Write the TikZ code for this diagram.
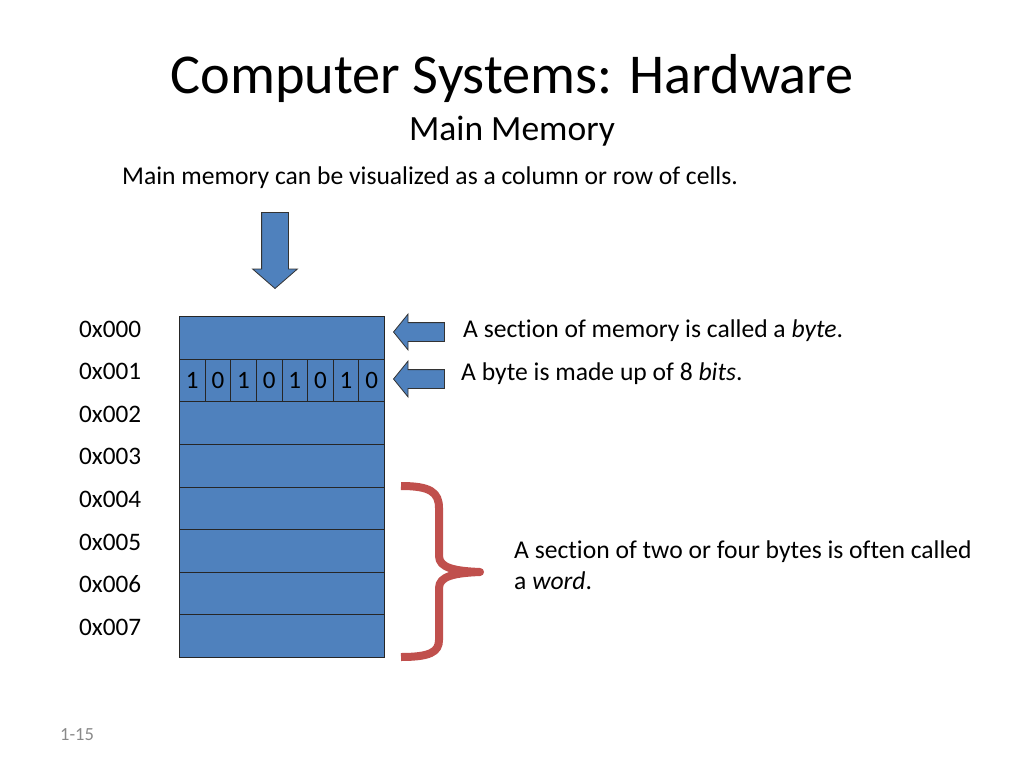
\documentclass[tikz,border=0pt]{standalone}
\usepackage{fontspec}
\setmainfont{Carlito}[Ligatures=NoCommon]
\usetikzlibrary{shapes.arrows, positioning}
\definecolor{cellblue}{HTML}{4F81BD}
\definecolor{bracered}{HTML}{C0504D}
\definecolor{numgray}{HTML}{898989}

\begin{document}
\begin{tikzpicture}[x=1pt, y=-1pt,
memcell/.style={rectangle, draw=black!85, fill=cellblue, line width=0.8pt, minimum width=205pt, minimum height=42.625pt, inner sep=0pt, anchor=north west},
bitcell/.style={rectangle, draw=black!85, fill=cellblue, line width=0.8pt, minimum width=25.625pt, minimum height=42.625pt, inner sep=0pt, anchor=north west, font=\fontsize{25}{30}\selectfont},
addrtext/.style={anchor=base west, inner sep=0pt, font=\fontsize{25.2}{30}\selectfont},
bodytext/.style={anchor=base west, inner sep=0pt, font=\fontsize{25.6}{30}\selectfont},
downarrow/.style={single arrow, draw=black!80, fill=cellblue, line width=0.8pt, shape border rotate=270, minimum height=76pt, inner sep=13pt, single arrow head extend=9pt, single arrow tip angle=98},
leftarrow/.style={single arrow, draw=black!80, fill=cellblue, line width=0.8pt, shape border rotate=180, minimum height=51pt, inner sep=9pt, single arrow head extend=8.5pt, single arrow tip angle=102},
]
\useasboundingbox (0,0) rectangle (1024,768);

%Titles
\node[anchor=base, inner sep=0pt, font=\fontsize{56.3}{66}\selectfont] (title) at (512,93) {Computer Systems: Hardware};
\node[anchor=base, inner sep=0pt, font=\fontsize{35.5}{42}\selectfont] (subtitle) at (512,140) {Main Memory};
\node[bodytext] (intro) at (122,184) {Main memory can be visualized as a column or row of cells.};

%Memory cells
\foreach \i in {0,...,7}
  \node[memcell] (row\i) at (179,{316+42.625*\i}) {};
\foreach \b [count=\i from 0] in {1,0,1,0,1,0,1,0}
  \node[bitcell] (bit\i) at ({179+25.625*\i},358.625) {\b};
\foreach \i in {0,...,7}
  \node[addrtext] (addr\i) at (79,{337+42.6*\i}) {0x00\i};

%Arrows
\node[downarrow, anchor=tip] (inarrow) at (275,289) {};
\node[leftarrow, anchor=tip] (bytearrow) at (393,332) {};
\node[leftarrow, anchor=tip] (bitarrow) at (393,379) {};

%Labels
\node[bodytext] (bytetext) at (463,337) {A section of memory is called a \textit{byte}.};
\node[bodytext] (bitstext) at (461,380) {A byte is made up of 8 \textit{bits}.};
\node[bodytext] (wordtext) at (514,558) {A section of two or four bytes is often called};
\node[bodytext] (wordtextb) at (514,589) {a \textit{word}.};
\node[anchor=base west, inner sep=0pt, text=numgray, font=\fontsize{18.5}{22}\selectfont] (slidenum) at (60,740) {1-15};

%Brace
\draw[bracered, line width=8pt, line join=round] (401,486) .. controls (430,486) and (439,492) .. (439,508) -- (439,556) .. controls (439,568) and (455,571) .. (480,572) .. controls (455,573) and (439,576) .. (439,588) -- (439,640) .. controls (439,652) and (430,657) .. (401,657);

\end{tikzpicture}
\end{document}
